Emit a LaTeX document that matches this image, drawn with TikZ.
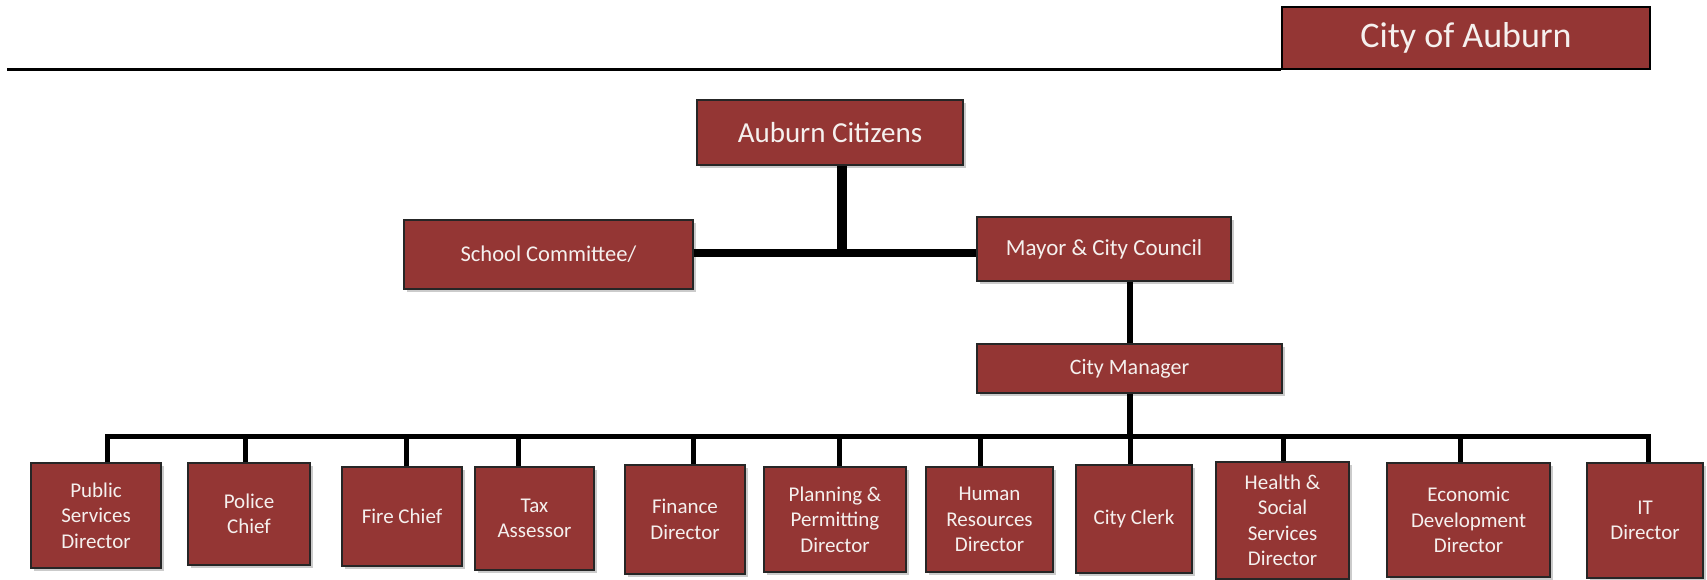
\documentclass[tikz,border=0pt]{standalone}
\usepackage{fontspec}
\setmainfont{Carlito}
\usetikzlibrary{shadows}
\definecolor{boxred}{RGB}{148,54,52}
\definecolor{boxtext}{RGB}{245,240,238}
\tikzset{
  orgbox/.style={draw=black!85, line width=1.2pt, fill=boxred, text=boxtext, align=center,
    inner sep=0pt, drop shadow={shadow xshift=3pt, shadow yshift=-3pt, fill=black!45, opacity=.45}},
  titlebox/.style={draw=black, line width=2.5pt, fill=boxred, text=boxtext, inner sep=0pt},
  thick1/.style={line width=8pt},
  thick2/.style={line width=10pt},
  mid/.style={line width=6pt},
  stub/.style={line width=5pt},
}
\newcommand\orgnode[7]{%
  \node[#1, minimum width={(#5-#3)*1pt}, minimum height={(#6-#4)*1pt}] (#2) at ({(#3+#5)/2},{(#4+#6)/2}) {#7};}
\begin{document}
\begin{tikzpicture}[x=1pt,y=-1pt]
\useasboundingbox (0,0) rectangle (1707,580);
% title
\orgnode{titlebox}{title}{1282}{7}{1650}{69}{\fontsize{36}{40}\selectfont City of Auburn}
\coordinate (tl) at (7,70);
\draw[line width=3pt] (tl) -- (tl -| title.west);
% top tier
\orgnode{orgbox}{ac}{697}{100}{963}{165}{\fontsize{29}{32}\selectfont Auburn Citizens}
\orgnode{orgbox}{sc}{404}{220}{693}{289}{\fontsize{22.5}{26}\selectfont School Committee/}
\orgnode{orgbox}{mc}{977}{217}{1231}{281}{\fontsize{23}{26}\selectfont Mayor \& City Council}
\orgnode{orgbox}{cm}{977}{344}{1282}{393}{\fontsize{22}{25}\selectfont City Manager}
\coordinate (j) at (842,253);
\draw[thick2] (ac.south -| j) -- (j);
\draw[thick1] (sc.east |- j) -- (mc.west |- j);
\coordinate (m) at (1130,436);
\draw[mid] (mc.south -| m) -- (cm.north -| m);
\draw[mid] (cm.south -| m) -- (m);
% bottom tier
\tikzset{every node/.append style={font=\fontsize{21}{25.5}\selectfont}}
\orgnode{orgbox}{ps}{31}{463}{161}{568}{Public\\Services\\Director}
\orgnode{orgbox}{pc}{188}{463}{310}{565}{Police\\Chief}
\orgnode{orgbox}{fc}{342}{467}{462}{566}{Fire Chief}
\orgnode{orgbox}{ta}{475}{467}{594}{570}{Tax\\Assessor}
\orgnode{orgbox}{fd}{625}{465}{745}{574}{Finance\\Director}
\orgnode{orgbox}{pp}{764}{467}{906}{572}{Planning \&\\Permitting\\Director}
\orgnode{orgbox}{hr}{926}{467}{1053}{572}{Human\\Resources\\Director}
\orgnode{orgbox}{cc}{1076}{465}{1192}{573}{City Clerk}
\orgnode{orgbox}{hs}{1216}{462}{1349}{579}{Health \&\\Social\\Services\\Director}
\orgnode{orgbox}{ed}{1387}{463}{1550}{577}{Economic\\Development\\Director}
\orgnode{orgbox}{it}{1587}{463}{1703}{578}{IT\\Director}
% bus
\coordinate (b1) at (107,436);
\coordinate (b2) at (245,436);
\coordinate (b3) at (406,436);
\coordinate (b4) at (518,436);
\coordinate (b5) at (693,436);
\coordinate (b6) at (839,436);
\coordinate (b7) at (980,436);
\coordinate (b8) at (1130,436);
\coordinate (b9) at (1283,436);
\coordinate (b10) at (1460,436);
\coordinate (b11) at (1648,436);
\draw[stub, line join=miter] (b1 |- ps.north) -- (b1) -- (b11) -- (b11 |- it.north);
\draw[stub] (b2) -- (b2 |- pc.north);
\draw[stub] (b3) -- (b3 |- fc.north);
\draw[stub] (b4) -- (b4 |- ta.north);
\draw[stub] (b5) -- (b5 |- fd.north);
\draw[stub] (b6) -- (b6 |- pp.north);
\draw[stub] (b7) -- (b7 |- hr.north);
\draw[stub] (b8) -- (b8 |- cc.north);
\draw[stub] (b9) -- (b9 |- hs.north);
\draw[stub] (b10) -- (b10 |- ed.north);
\end{tikzpicture}
\end{document}
